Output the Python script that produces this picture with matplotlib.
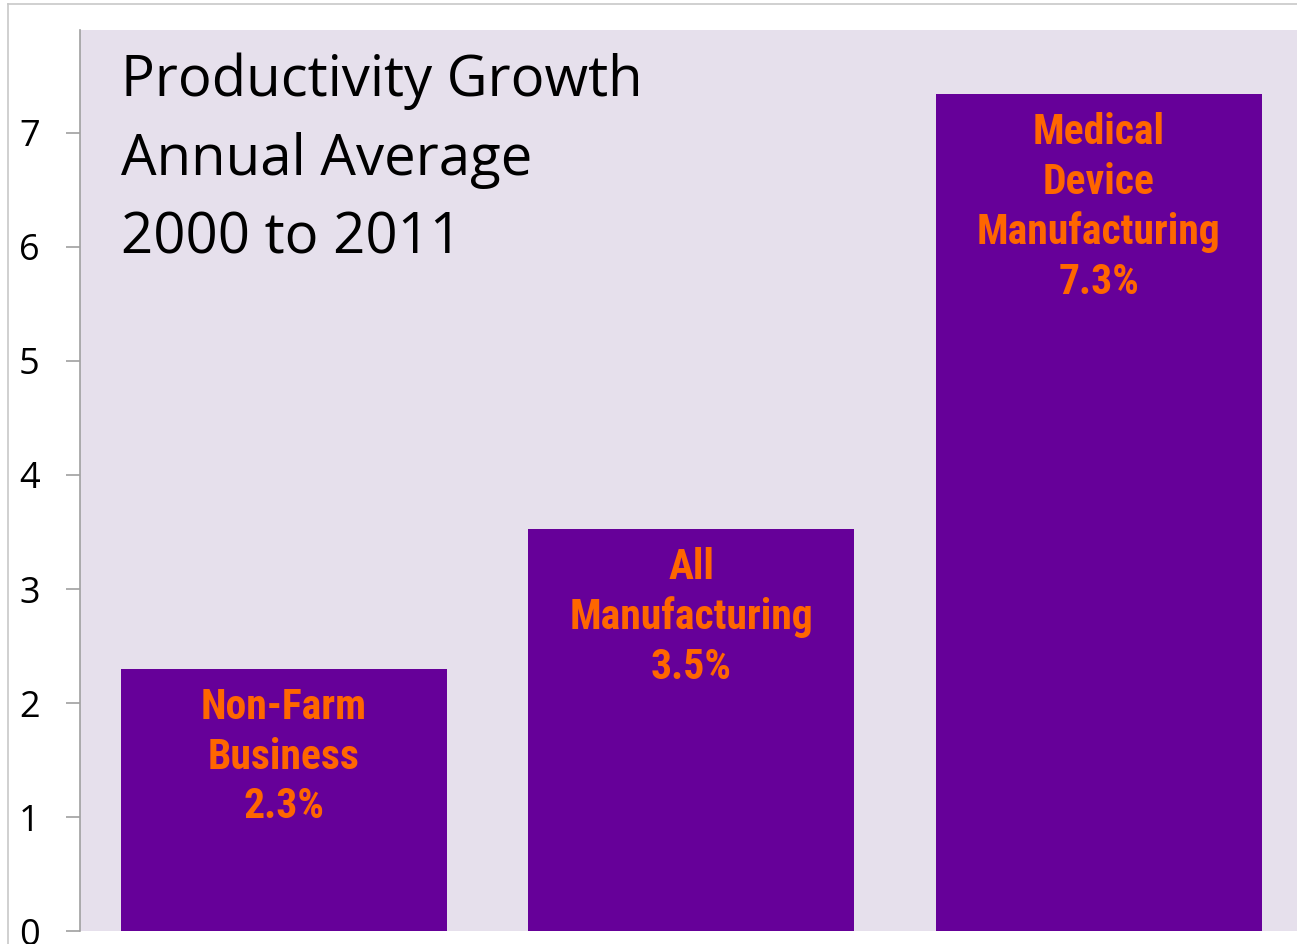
import matplotlib
matplotlib.use("Agg")
import matplotlib.pyplot as plt
from matplotlib.lines import Line2D
from matplotlib import font_manager

categories = ["Non-Farm\nBusiness", "All\nManufacturing", "Medical\nDevice\nManufacturing"]
values = [2.30, 3.53, 7.34]
value_labels = ["2.3%", "3.5%", "7.3%"]
yticks = [0, 1, 2, 3, 4, 5, 6, 7]
title_lines = "Productivity Growth\nAnnual Average\n2000 to 2011"

names = {f.name for f in font_manager.fontManager.ttflist}
label_font = ["Liberation Sans Narrow"] if "Liberation Sans Narrow" in names else ["Roboto Condensed", "Liberation Sans"]
main_font = "Open Sans"

W, H = 1297, 944
fig = plt.figure(figsize=(W / 100, H / 100), dpi=100)
fig.patch.set_facecolor("white")

# thin gray border of the original slide image
fig.add_artist(Line2D([8 / W, 8 / W], [0, 1 - 4 / H], transform=fig.transFigure, color="#c8c8c8", lw=1.2))
fig.add_artist(Line2D([8 / W, 1], [1 - 4 / H, 1 - 4 / H], transform=fig.transFigure, color="#c8c8c8", lw=1.2))

ax = fig.add_axes([80 / W, 12.7 / H, 1 - 80 / W, (931.3 - 30) / H])
ax.set_facecolor("#E6E0EC")

x = list(range(len(categories)))
ax.bar(x, values, width=0.8, color="#660099", zorder=2)

ax.set_xlim(-0.5, 2.487)
ax.set_ylim(0, 7.9)
ax.set_yticks(yticks)
ax.set_yticklabels([str(t) for t in yticks], fontsize=26, family=main_font)
ax.set_xticks([])
ax.tick_params(axis="y", length=10, width=1.2, color="#a0a0a0", pad=19)
for s in ["top", "right", "bottom"]:
    ax.spines[s].set_visible(False)
ax.spines["left"].set_color("#a0a0a0")
ax.spines["left"].set_linewidth(1.2)

for xi, v, cat, vl in zip(x, values, categories, value_labels):
    ax.annotate(cat + "\n" + vl, xy=(xi, v), xytext=(0, -13), textcoords="offset points",
                ha="center", va="top", color="#FF6600", fontsize=30, fontweight="bold",
                family=label_font, linespacing=1.27, zorder=3)

ax.text(121 / W, 1 - 53 / H, title_lines, transform=fig.transFigure, ha="left", va="top",
        fontsize=40.5, family=main_font, color="black", linespacing=1.5)

fig.savefig("out.png", dpi=100)
